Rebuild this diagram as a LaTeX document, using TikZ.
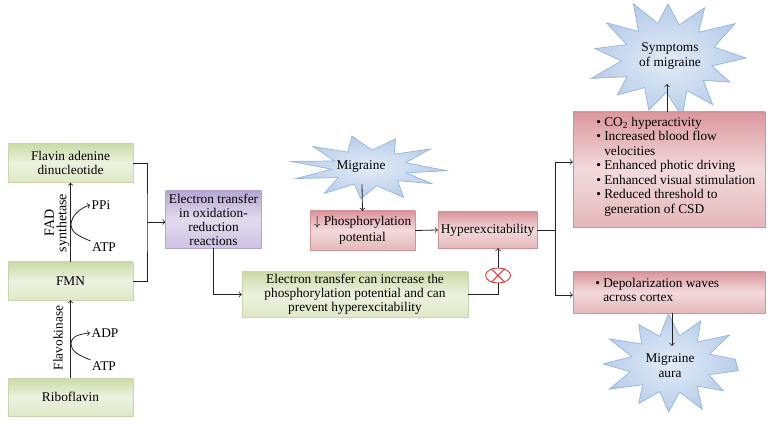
\documentclass[tikz,border=0pt]{standalone}
\usepackage{fontspec}
\setmainfont{Liberation Serif}
\usetikzlibrary{shapes.geometric,calc}
\definecolor{gtop}{RGB}{203,219,165}
\definecolor{gmid}{RGB}{236,242,224}
\definecolor{gbot}{RGB}{222,232,198}
\definecolor{gline}{RGB}{200,214,170}
\definecolor{rtop}{RGB}{219,151,157}
\definecolor{rmid}{RGB}{242,218,219}
\definecolor{rbot}{RGB}{229,183,186}
\definecolor{rline}{RGB}{212,146,152}
\definecolor{ptop}{RGB}{184,168,212}
\definecolor{pmid}{RGB}{226,219,238}
\definecolor{pbot}{RGB}{205,193,226}
\definecolor{pline}{RGB}{180,165,208}
\definecolor{stin}{RGB}{226,235,247}
\definecolor{stout}{RGB}{184,205,233}
\definecolor{stline}{RGB}{141,179,226}
\definecolor{ink}{RGB}{35,35,35}
\definecolor{inhib}{RGB}{228,40,40}
\tikzset{
  txt/.style={font=\fontsize{10}{10.9}\selectfont},
  box/.style={rectangle, inner sep=0pt, align=center, txt},
  gbox/.style={box, top color=gtop, bottom color=gbot, middle color=gmid, draw=gline, line width=0.3pt},
  rbox/.style={box, top color=rtop, bottom color=rbot, middle color=rmid, draw=rline, line width=0.3pt},
  pbox/.style={box, top color=ptop, bottom color=pbot, middle color=pmid, draw=pline, line width=0.3pt},
  conn/.style={draw=ink, line width=0.6pt},
  arr/.style={conn, ->},
  lab/.style={txt, inner sep=1pt},
  starsty/.style={inner color=stin, outer color=stout, draw=stline, line width=0.5pt},
}
\begin{document}
\begin{tikzpicture}[x=0.75pt,y=-0.75pt]
\useasboundingbox (0,0) rectangle (772,424);

% ---- stars ----
\begin{scope}[shift={(668,58)}, xscale=78, yscale=57]
  \path[starsty] (0:1) -- (14:.58) -- (28:.9) -- (41:.6) -- (55:1) -- (67:.62) -- (80:1.05) -- (92:.6) -- (105:.95) -- (120:.6) -- (135:.92) -- (148:.62) -- (160:1.05) -- (175:.6) -- (190:.95) -- (204:.58) -- (218:1) -- (231:.6) -- (245:1.05) -- (258:.62) -- (270:.95) -- (284:.6) -- (298:1) -- (311:.6) -- (325:1.05) -- (342:.62) -- cycle;
\end{scope}
\begin{scope}[shift={(369,168)}, xscale=78, yscale=31]
  \path[starsty] (5:1) -- (18:.5) -- (32:.95) -- (48:.55) -- (65:1.05) -- (80:.58) -- (96:1) -- (110:.55) -- (125:1) -- (142:.5) -- (160:1) -- (175:.48) -- (192:1.02) -- (207:.5) -- (224:1) -- (242:.58) -- (258:1.05) -- (274:.58) -- (290:1) -- (306:.55) -- (322:1) -- (340:.5) -- cycle;
\end{scope}
\begin{scope}[shift={(671,364)}, xscale=68, yscale=48]
  \path[starsty] (8:1) -- (22:.6) -- (36:.95) -- (50:.6) -- (64:1.05) -- (78:.6) -- (92:1) -- (106:.6) -- (120:.95) -- (134:.6) -- (150:1.05) -- (165:.62) -- (180:1) -- (195:.6) -- (210:1.05) -- (224:.6) -- (240:.95) -- (254:.6) -- (268:1.05) -- (282:.6) -- (296:1) -- (310:.6) -- (325:1.05) -- (340:.6) -- (354:.95) -- cycle;
\end{scope}

% ---- left column ----
\node[gbox, minimum width=93.75pt, minimum height=29.25pt] (fad) at (70.5,163) {Flavin adenine\\dinucleotide};
\node[gbox, minimum width=93.75pt, minimum height=28.5pt] (fmn) at (70.5,281) {FMN};
\node[gbox, minimum width=93.75pt, minimum height=28.5pt] (ribo) at (70.5,397) {Riboflavin};
\draw[arr] (ribo) -- (fmn);
\draw[arr] (fmn) -- (fad);

\node[lab] (ppi) at (101,205) {PPi};
\node[lab] (atpa) at (104,247) {ATP};
\coordinate (ka) at (71,225);
\draw[arr] (atpa.north west) .. controls (78,236) and (71,232) .. (ka) .. controls (71,216) and (80,208) .. (ppi.west);
\node[lab] (adp) at (105,333) {ADP};
\node[lab] (atpb) at (104,366) {ATP};
\coordinate (kb) at (71,344);
\draw[arr] (atpb.north west) .. controls (78,355) and (71,351) .. (kb) .. controls (71,336) and (80,334) .. (adp.west);

\node[lab, rotate=90, align=center, font=\fontsize{10.5}{9.5}\selectfont] (fads) at (57,223) {FAD\\synthetase};
\node[lab, rotate=90] (flk) at (58,338) {Flavokinase};

% ---- middle ----
\node[pbox, minimum width=72pt, minimum height=42.75pt, font=\fontsize{10}{10.5}\selectfont] (etr) at (213.5,219.5) {Electron transfer\\in oxidation-\\reduction\\reactions};
\coordinate (jx) at (147,222);
\draw[conn] (fad.east) -| (jx) |- (fmn.east);
\draw[arr] (jx) -- (jx -| etr.west);

\node[gbox, minimum width=169.5pt, minimum height=33.75pt, font=\fontsize{10}{10.6}\selectfont] (etg) at (355,294.5) {Electron transfer can increase the\\phosphorylation potential and can\\prevent hyperexcitability};
\draw[arr] (etr.south) |- (etg.west);

\node[rbox, minimum width=78.75pt, minimum height=29.25pt, font=\fontsize{10}{12}\selectfont] (phos) at (362.5,230.5) {$\downarrow$ Phosphorylation\\potential};
\node[rbox, minimum width=74.25pt, minimum height=27pt] (hyp) at (487.5,230) {Hyperexcitability};
\draw[arr] (phos.east) -- (hyp.west);

\node[lab] (mig) at (361,167) {Migraine};
\coordinate (ms) at (362,184);
\draw[arr] (ms) -- (phos.north);

\coordinate (xb) at (498,0);
\draw[arr] (etg.east) -| (hyp.south -| xb);
\node[ellipse, draw=inhib, fill=white, line width=0.6pt, minimum width=18.75pt, minimum height=11.25pt, inner sep=0pt] (inh) at (498,275.5) {};
\draw[inhib, line width=0.6pt] (inh.45) -- (inh.225) (inh.135) -- (inh.315);

% ---- right ----
\node[rbox, minimum width=144pt, minimum height=86.25pt] (symbox) at (669,169.5) {};
\node[anchor=west, txt, inner sep=0pt] (symtxt) at (596,167) {%
\begin{tabular}{@{}l@{\hspace{2.5pt}}l@{}}
\textbullet & CO\textsubscript{2} hyperactivity\\
\textbullet & Increased blood flow\\
 & velocities\\
\textbullet & Enhanced photic driving\\
\textbullet & Enhanced visual stimulation\\
\textbullet & Reduced threshold to\\
 & generation of CSD
\end{tabular}};
\node[rbox, minimum width=144pt, minimum height=30.75pt] (depbox) at (669,292.5) {};
\node[anchor=west, txt, inner sep=0pt] (deptxt) at (595,291.5) {%
\begin{tabular}{@{}l@{\hspace{2.5pt}}l@{}}
\textbullet & Depolarization waves\\
 & across cortex
\end{tabular}};

\coordinate (v1) at (555,162);
\coordinate (v2) at (555,295);
\draw[arr] (hyp.east) -| (v1) -- (v1 -| symbox.west);
\draw[arr] (hyp.east) -| (v2) -- (v2 -| depbox.west);

\node[lab, align=center, font=\fontsize{10}{11.25}\selectfont] (symstar) at (670,56) {Symptoms\\of migraine};
\coordinate (symtip) at (667,84);
\draw[arr] (symbox.north -| symtip) -- (symtip);

\node[lab, align=center, font=\fontsize{10}{11.25}\selectfont] (aura) at (670,366) {Migraine\\aura};
\coordinate (auratip) at (672,346);
\draw[arr] (depbox.south -| auratip) -- (auratip);
\end{tikzpicture}
\end{document}
